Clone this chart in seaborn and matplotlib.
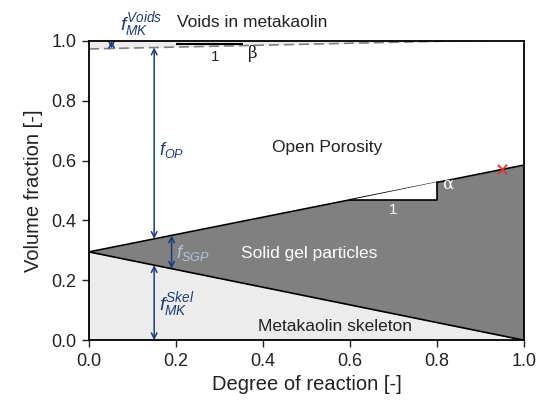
import matplotlib
matplotlib.use("Agg")
import matplotlib.pyplot as plt
import numpy as np
import pandas as pd
import seaborn as sns

# Degree of reaction (x) and the boundaries of the volume fractions
degree = [0.0, 1.0]
skeleton_top = [0.295, 0.0]      # metakaolin skeleton upper bound
gel_top = [0.295, 0.585]         # solid gel particles upper bound
voids_bottom = [0.973, 1.005]    # lower bound of voids in metakaolin

# Marked end-state point
end_point = (0.95, 0.5705)

# Slope triangles (x0, x1) on the lines
alpha_tri = (0.60, 0.80)
beta_tri = (0.20, 0.355)

# Arrow positions (x)
x_op = 0.15
x_skel = 0.15
x_sgp = 0.19
x_voids = 0.052

sns.set_style("ticks")
plt.rcParams["font.family"] = ["Liberation Sans", "DejaVu Sans"]
plt.rcParams["mathtext.fontset"] = "custom"
plt.rcParams["mathtext.rm"] = "Liberation Sans"
plt.rcParams["mathtext.it"] = "Liberation Sans:italic"

fig = plt.figure(figsize=(5.39, 4.05), dpi=100)
ax = fig.add_axes([0.165, 0.160, 0.807, 0.739])

df = pd.DataFrame({"degree": degree, "skel": skeleton_top,
                   "gel": gel_top, "voids": voids_bottom})

def line_at(ys, x):
    return np.interp(x, degree, ys)

# Filled regions
ax.fill_between(df["degree"], 0, df["skel"], color="#ececec", lw=0)
ax.fill_between(df["degree"], df["skel"], df["gel"], color="#808080", lw=0)
ax.fill_between(df["degree"], df["voids"], 1.0, color="#ececec", lw=0)

# Boundary lines
sns.lineplot(data=df, x="degree", y="skel", color="black", lw=1.2, ax=ax)
sns.lineplot(data=df, x="degree", y="gel", color="black", lw=1.2, ax=ax)
sns.lineplot(data=df, x="degree", y="voids", color="#808080", lw=1.2,
             ax=ax, linestyle=(0, (6, 3)))

# Slope triangle alpha
a0, a1 = alpha_tri
ya0, ya1 = line_at(gel_top, a0), line_at(gel_top, a1)
ax.fill([a0, a1, a1], [ya0, ya0, ya1], color="white", lw=0, zorder=3)
ax.plot([a0, a1, a1], [ya0, ya0, ya1], color="black", lw=1.2, zorder=4)
ax.text((a0 + a1) / 2, ya0 - 0.012, "1", color="white", ha="center",
        va="top", fontsize=11)
ax.text(a1 + 0.012, ya1 - 0.005, "\u03b1", color="white", ha="left",
        va="center", fontsize=12, family="DejaVu Serif")

# Slope triangle beta
b0, b1 = beta_tri
yb0, yb1 = line_at(voids_bottom, b0), line_at(voids_bottom, b1)
ax.plot([b0, b1, b1], [yb0 + 0.01, yb0 + 0.01, yb1 + 0.005],
        color="black", lw=1.5, zorder=4, solid_capstyle="butt")
ax.text(0.29, yb0 - 0.01, "1", color="#222222",
        ha="center", va="top", fontsize=11)
ax.text(b1 + 0.01, yb0 + 0.008, "\u03b2", color="#222222", ha="left",
        va="top", fontsize=12, family="DejaVu Serif")

# End-state marker
ax.scatter([end_point[0]], [end_point[1]], marker="x", color="#e03030",
           s=45, lw=1.3, zorder=5)

# Double-headed arrows
arrow_c = "#1f3c7a"
def darrow(x, y0, y1, color=arrow_c):
    ax.annotate("", xy=(x, y1), xytext=(x, y0),
                arrowprops=dict(arrowstyle="<->", color=color, lw=1.1,
                                shrinkA=0, shrinkB=0,
                                mutation_scale=10), zorder=6)

darrow(x_op, line_at(gel_top, x_op), line_at(voids_bottom, x_op))
darrow(x_skel, 0.0, line_at(skeleton_top, x_skel))
darrow(x_sgp, line_at(skeleton_top, x_sgp), line_at(gel_top, x_sgp))
darrow(x_voids, line_at(voids_bottom, x_voids), 1.0)

# Symbol labels
ax.text(0.16, 0.635, r"$f_{OP}$", color=arrow_c, fontsize=13,
        ha="left", va="center")
ax.text(0.20, 0.29, r"$f_{SGP}$", color="#b5c2dc", fontsize=13,
        ha="left", va="center")
ax.text(0.16, 0.12, r"$f_{MK}^{Skel}$", color=arrow_c, fontsize=14,
        ha="left", va="center")
ax.text(0.072, 1.055, r"$f_{MK}^{Voids}$", color=arrow_c, fontsize=14,
        ha="left", va="center", clip_on=False)

# Region names
ax.text(0.375, 1.06, "Voids in metakaolin", color="#222222", fontsize=12.5,
        ha="center", va="center", clip_on=False)
ax.text(0.547, 0.645, "Open Porosity", color="#222222", fontsize=12.5,
        ha="center", va="center")
ax.text(0.506, 0.29, "Solid gel particles", color="white", fontsize=12.5,
        ha="center", va="center")
ax.text(0.566, 0.047, "Metakaolin skeleton", color="#222222", fontsize=12.5,
        ha="center", va="center")

ax.set_xlim(0, 1)
ax.set_ylim(0, 1)
ticks = np.arange(0, 1.01, 0.2)
ax.set_xticks(ticks)
ax.set_yticks(ticks)
ax.set_xticklabels([f"{v:.1f}" for v in ticks])
ax.set_yticklabels([f"{v:.1f}" for v in ticks])
ax.tick_params(direction="out", length=5, width=1.0, labelsize=13,
               colors="#222222", pad=4)
for s in ax.spines.values():
    s.set_visible(True)
    s.set_color("black")
    s.set_linewidth(1.3)
    s.set_zorder(7)
ax.set_xlabel("Degree of reaction [-]", fontsize=14.5, color="#222222",
              labelpad=4)
ax.set_ylabel("Volume fraction [-]", fontsize=14.5, color="#222222",
              labelpad=6)

fig.savefig("out.png", dpi=100)
